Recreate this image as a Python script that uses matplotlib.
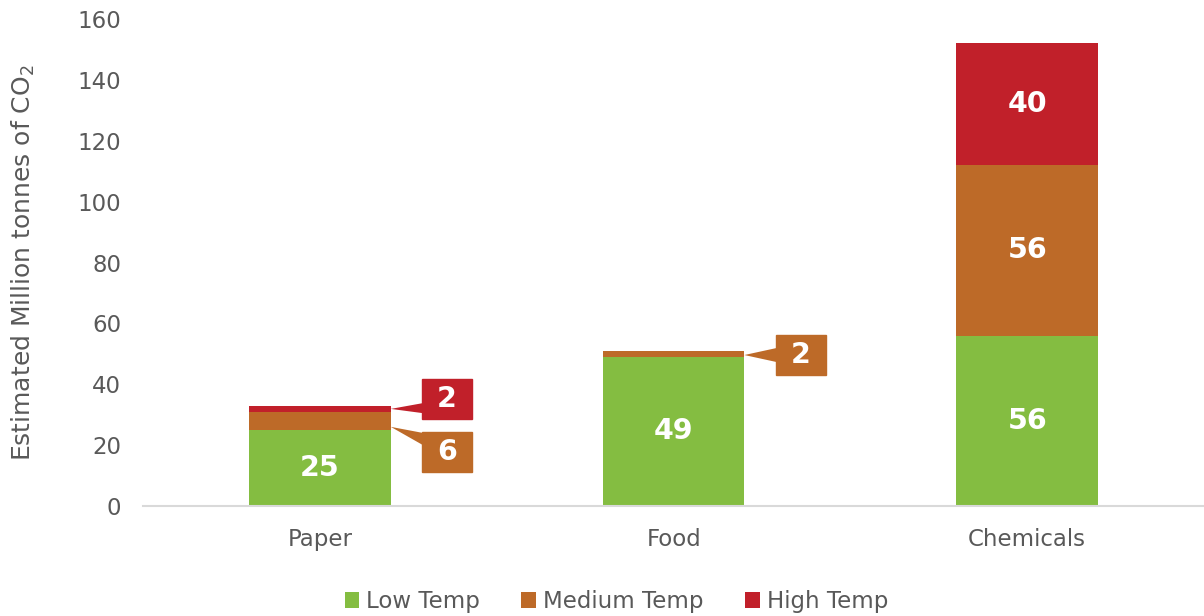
import matplotlib.pyplot as plt
from matplotlib.patches import Polygon
import numpy as np

plt.rcParams['font.family'] = ['DejaVu Sans']

# data
sectors = ['Paper', 'Food', 'Chemicals']
low_temp = [25, 49, 56]
medium_temp = [6, 2, 56]
high_temp = [2, 0, 40]
series_names = ['Low Temp', 'Medium Temp', 'High Temp']
colors = ['#84BD41', '#BD6A28', '#C1202A']

fig = plt.figure(figsize=(12.04, 6.16), dpi=100)
ax = fig.add_axes([0.119, 0.1786, 0.881, 0.7905])

x = np.arange(len(sectors))
w = 0.4
bottom = np.zeros(len(sectors))
bars = []
for vals, name, c in zip([low_temp, medium_temp, high_temp], series_names, colors):
    b = ax.bar(x, vals, w, bottom=bottom, color=c, label=name)
    bars.append(b)
    bottom = bottom + np.array(vals)

label_kw = dict(ha='center', va='center', color='white', fontsize=20.5, fontweight='bold')

# inside labels where the segment is big enough
for vals, b in zip([low_temp, medium_temp, high_temp], bars):
    for i, v in enumerate(vals):
        if v >= 20:
            r = b[i]
            ax.text(r.get_x() + r.get_width() / 2, r.get_y() + v / 2, str(v), **label_kw)


# callouts for small segments
def callout(xi, value, seg_mid, box_y, color, base):
    bx0 = xi + w / 2 + 0.089
    bw, bh = 0.141, 13.1
    ax.add_patch(plt.Rectangle((bx0, box_y - bh / 2), bw, bh, color=color, zorder=3))
    tri = Polygon([(xi + w / 2, seg_mid), (bx0 + 0.002, base[0]), (bx0 + 0.002, base[1])],
                  closed=True, color=color, zorder=3, lw=0)
    ax.add_patch(tri)
    ax.text(bx0 + bw / 2, box_y, str(value), zorder=4, **label_kw)


callout(0, high_temp[0], 31.9, 35.2, colors[2], (33.8, 30.5))
callout(0, medium_temp[0], 26.0, 17.6, colors[1], (24.0, 20.0))
callout(1, medium_temp[1], 49.6, 49.6, colors[1], (51.9, 47.3))

ax.set_xlim(-0.5, 2.5)
ax.set_ylim(0, 160)
ax.set_yticks(np.arange(0, 161, 20))
ax.set_xticks(x)
ax.set_xticklabels(sectors)
ax.tick_params(axis='both', length=0, labelsize=16.5, colors='#595959')
ax.tick_params(axis='x', pad=16)
ax.tick_params(axis='y', pad=16)
for s in ['top', 'right', 'left']:
    ax.spines[s].set_visible(False)
ax.spines['bottom'].set_color('#D9D9D9')
ax.spines['bottom'].set_linewidth(1.5)

ax.set_ylabel('Estimated Million tonnes of CO$_2$', fontsize=18, color='#595959')
ax.yaxis.set_label_coords(-0.1, 0.5)

ax.legend(loc='upper center', bbox_to_anchor=(0.446, -0.13), ncol=3, frameon=False,
          fontsize=16.5, labelcolor='#595959', handlelength=0.65, handleheight=0.65,
          handletextpad=0.3, columnspacing=1.8)

fig.savefig('out.png', dpi=100)
